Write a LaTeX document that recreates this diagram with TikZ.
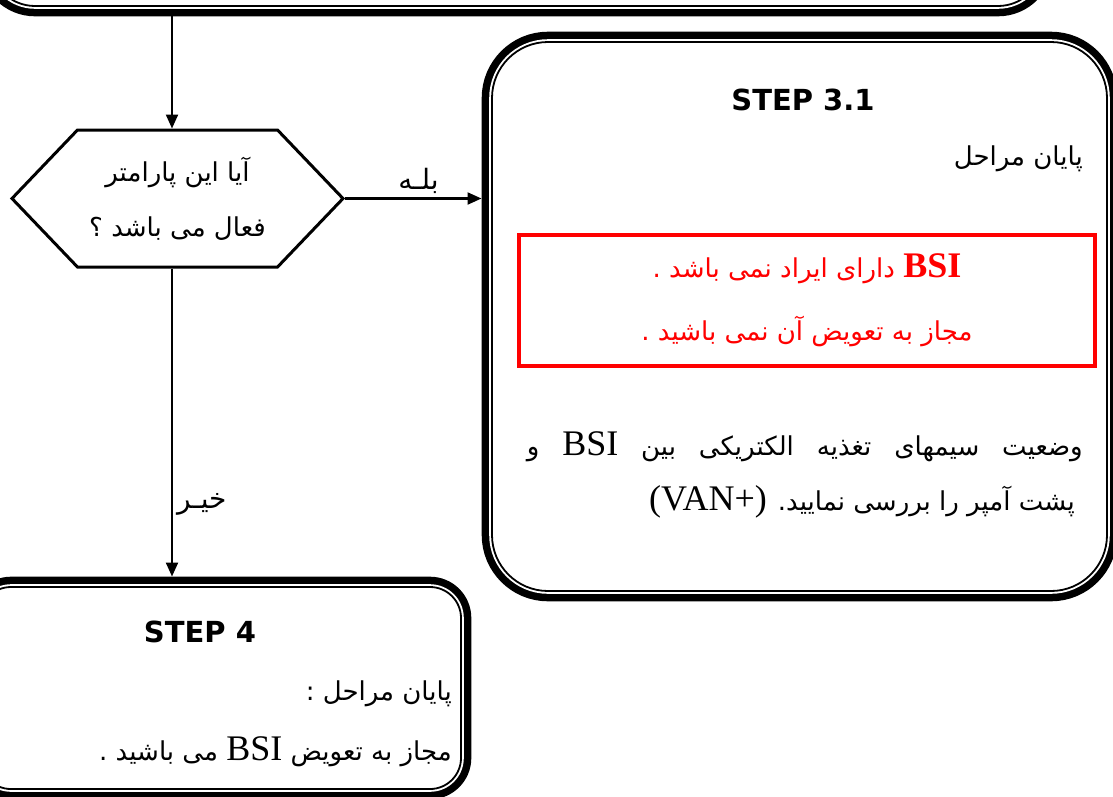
\documentclass[tikz,border=0pt]{standalone}
\usepackage{fontspec}
\newfontfamily\fa[Script=Arabic]{DejaVu Sans}
\newfontfamily\lat{Liberation Serif}
\newfontfamily\stepfont{DejaVu Sans}
\TeXXeTstate=1
\usetikzlibrary{shapes.symbols,arrows.meta,positioning}

\newcommand{\rtl}[1]{\beginR#1\endR}
\newcommand{\en}[1]{\beginL{\lat\fontsize{36}{36}\selectfont #1}\endL{}}

\begin{document}
\begin{tikzpicture}[
    x=1pt, y=-1pt,
    stepbox/.style={rectangle, draw=none, fill=white, rounded corners=#1, inner sep=0pt,
        preaction={draw=black, line width=20.6pt},
        postaction={draw=white, line width=5.6pt},
        postaction={draw=black, line width=1.8pt}},
    stepbox/.default=40pt,
    decision/.style={signal, signal to=east and west, signal pointer angle=92.6, draw, line width=3pt,
        minimum width=331pt, minimum height=137pt, align=center, inner sep=0pt},
    warnbox/.style={rectangle, draw=red, line width=3.5pt, text=red, align=center,
        minimum width=576pt, minimum height=131pt, inner sep=0pt},
    steptitle/.style={font=\stepfont\bfseries\fontsize{29}{29}\selectfont, inner sep=0pt},
    fatext/.style={font=\fa\fontsize{26}{26}\selectfont, inner sep=0pt},
    answer/.style={font=\fa\fontsize{28}{28}\selectfont, inner sep=4pt},
    arrow/.style={-{Triangle[length=14pt,width=12pt]}, line width=2.2pt}
]
\path[use as bounding box] (0,0) rectangle (1113,796);
\clip (0,0) rectangle (1113,796);

% boxes
\node[stepbox=45pt, minimum width=1053pt, minimum height=206pt] (top) at (516.5,-97) {};
\node[stepbox=56pt, minimum width=615pt, minimum height=549pt] (s31) at (799.5,316.5) {};
\node[stepbox=31pt, minimum width=481pt, minimum height=202pt] (s4) at (220.5,688) {};

% decision
\node[decision, font=\fa\fontsize{26}{55}\selectfont] (hex) at (177.5,198.5)
    {\rtl{آیا این پارامتر}\\ \rtl{فعال می باشد ؟}};

% step 3.1
\node[steptitle] (s31title) at (803,100) {STEP 3.1};
\node[fatext, anchor=base east] (s31end) at (1083,165) {\rtl{پایان مراحل}};
\node[warnbox, font=\fa\fontsize{26}{63}\selectfont] (warn) at (807,300.5)
    {\rtl{\en{\bfseries BSI} دارای ایراد نمی باشد .}\\ \rtl{مجاز به تعویض آن نمی باشید .}};
\node[fatext, anchor=base east] (wires) at (1083,455)
    {\makebox[556pt][s]{\rtl{وضعیت سیمهای تغذیه الکتریکی بین \en{BSI} و}}};
\node[fatext, anchor=base east] (wires2) at (1075,510)
    {\rtl{پشت آمپر را بررسی نمایید. \en{(VAN+)}}};

% step 4
\node[steptitle] (s4title) at (200,632) {STEP 4};
\node[fatext, anchor=base east] (s4end) at (452,700) {\rtl{پایان مراحل :}};
\node[fatext, anchor=base east] (s4ok) at (452,760) {\rtl{مجاز به تعویض \en{BSI} می باشید .}};

% connectors
\coordinate (trunk) at (172,0);
\draw[arrow, shorten <=10pt] (top.south -| trunk) -- (hex.north -| trunk);
\draw[arrow, shorten >=10.3pt] (hex.east) -- (hex.east -| s31.west)
    node[answer, midway, above] {\rtl{بلـه}};
\draw[arrow, shorten >=10.3pt] (hex.south -| trunk) -- (s4.north -| trunk)
    node[answer, pos=0.74, right] {\rtl{خیـر}};

\end{tikzpicture}
\end{document}
